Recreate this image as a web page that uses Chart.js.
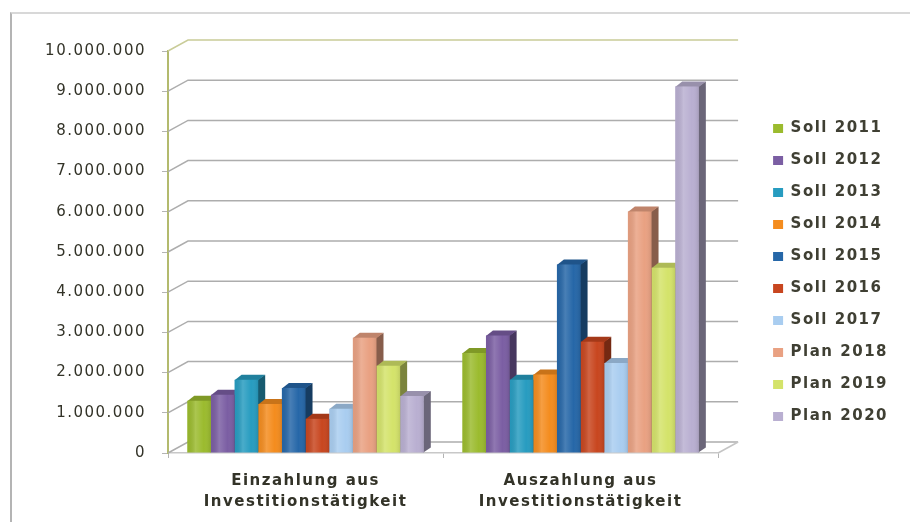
<!DOCTYPE html>
<html>
<head>
<meta charset="utf-8">
<script src="https://cdn.jsdelivr.net/npm/chart.js@4.4.1/dist/chart.umd.min.js"></script>
<style>
  html, body { margin: 0; padding: 0; background: #fff; }
  #wrap { position: relative; width: 910px; height: 522px; }
  #frame { position: absolute; left: 10px; top: 12px; right: 0; bottom: 0;
           border-left: 2px solid #b4b4b4; border-top: 2px solid #d8d8d8; pointer-events: none; }
</style>
</head>
<body>
<div id="wrap">
  <canvas id="invest" width="910" height="522"></canvas>
  <div id="frame"></div>
</div>
<script>
// categories and series
var categories = [['Einzahlung aus', 'Investitionstätigkeit'], ['Auszahlung aus', 'Investitionstätigkeit']];
var seriesNames = ['Soll 2011', 'Soll 2012', 'Soll 2013', 'Soll 2014', 'Soll 2015',
                   'Soll 2016', 'Soll 2017', 'Plan 2018', 'Plan 2019', 'Plan 2020'];
var einzahlung = [1300000, 1450000, 1820000, 1220000, 1620000, 850000, 1100000, 2870000, 2170000, 1420000];
var auszahlung = [2490000, 2920000, 1820000, 1950000, 4690000, 2770000, 2240000, 6010000, 4610000, 9120000];
var yMax = 10000000;
var yStep = 1000000;

var seriesColors = ['#9bbb2e', '#7b5ea3', '#279cc0', '#f48c1e', '#2667a8',
                    '#c8461f', '#a9cdf0', '#e9a182', '#d4e36a', '#b9afd1'];

var WALL_DX = 20, WALL_DY = -11;   // depth of back wall
var BAR_DX = 7, BAR_DY = -5;       // depth of each column

function fmt(v) {
  return String(v).replace(/\B(?=(\d{3})+(?!\d))/g, '.');
}

function shade(hex, f) {
  var n = parseInt(hex.slice(1), 16);
  var c = [(n >> 16) & 255, (n >> 8) & 255, n & 255].map(function (v) {
    return Math.round(f < 0 ? v * (1 + f) : v + (255 - v) * f);
  });
  return 'rgb(' + c.join(',') + ')';
}

var spacing = {
  id: 'spacing',
  beforeLayout: function (chart) { chart.ctx.letterSpacing = '1.5px'; },
  beforeDraw: function (chart) { chart.ctx.letterSpacing = '1.5px'; }
};

function eachBar(chart, fn) {
  var metas = chart.getSortedVisibleDatasetMetas().slice().sort(function (m, n) { return m.index - n.index; });
  for (var j = 0; j < categories.length; j++) {
    metas.forEach(function (meta) {
      var el = meta.data[j];
      if (el) fn(el.getProps(['x', 'y', 'base', 'width'], true), seriesColors[meta.index]);
    });
  }
}

// back wall, side wall and the 3d faces of the columns
var depth3d = {
  id: 'depth3d',
  beforeDatasetsDraw: function (chart) {
    var ctx = chart.ctx, a = chart.chartArea, ys = chart.scales.y;
    ctx.save();
    ctx.lineWidth = 1.5;
    ys.ticks.forEach(function (t) {
      var py = ys.getPixelForValue(t.value);
      ctx.strokeStyle = t.value === ys.max ? '#c9cc98' : '#adadad';
      ctx.beginPath();
      ctx.moveTo(a.left, py);
      ctx.lineTo(a.left + WALL_DX, py + WALL_DY);
      ctx.lineTo(a.right + WALL_DX, py + WALL_DY);
      ctx.stroke();
    });
    ctx.strokeStyle = '#c4c4c4';
    ctx.beginPath();
    ctx.moveTo(a.right, a.bottom);
    ctx.lineTo(a.right + WALL_DX, a.bottom + WALL_DY);
    ctx.stroke();

    eachBar(chart, function (p, col) {
      var l = p.x - p.width / 2, r = p.x + p.width / 2;
      ctx.fillStyle = shade(col, -0.42);
      ctx.beginPath();
      ctx.moveTo(r - 0.5, p.y);
      ctx.lineTo(r + BAR_DX, p.y + BAR_DY);
      ctx.lineTo(r + BAR_DX, p.base + BAR_DY);
      ctx.lineTo(r - 0.5, p.base);
      ctx.closePath();
      ctx.fill();
      ctx.fillStyle = shade(col, -0.18);
      ctx.beginPath();
      ctx.moveTo(l, p.y + 0.5);
      ctx.lineTo(r, p.y + 0.5);
      ctx.lineTo(r + BAR_DX, p.y + BAR_DY);
      ctx.lineTo(l + BAR_DX, p.y + BAR_DY);
      ctx.closePath();
      ctx.fill();
    });
    ctx.restore();
  },
  // soft shading across the front faces
  afterDatasetsDraw: function (chart) {
    var ctx = chart.ctx;
    ctx.save();
    eachBar(chart, function (p) {
      var l = p.x - p.width / 2, r = p.x + p.width / 2;
      var g = ctx.createLinearGradient(l, 0, r, 0);
      g.addColorStop(0, 'rgba(0,0,0,0.04)');
      g.addColorStop(0.35, 'rgba(255,255,255,0.16)');
      g.addColorStop(0.7, 'rgba(255,255,255,0)');
      g.addColorStop(1, 'rgba(0,0,0,0.10)');
      ctx.fillStyle = g;
      ctx.fillRect(l, p.y, r - l, p.base - p.y);
    });
    ctx.restore();
  }
};

var datasets = seriesNames.map(function (name, i) {
  return {
    label: name,
    data: [einzahlung[i], auszahlung[i]],
    backgroundColor: seriesColors[i],
    borderWidth: 0,
    barPercentage: 1,
    categoryPercentage: 0.86
  };
});

var ctx = document.getElementById('invest').getContext('2d');
var chart = new Chart(ctx, {
  type: 'bar',
  data: { labels: categories, datasets: datasets },
  plugins: [spacing, depth3d],
  options: {
    responsive: false,
    animation: false,
    layout: { padding: { top: 23, bottom: 0, left: 0, right: 12 } },
    plugins: {
      tooltip: { enabled: false },
      legend: {
        position: 'right',
        align: 'center',
        labels: {
          boxWidth: 10,
          boxHeight: 9,
          padding: 17,
          color: '#3f3f33',
          font: { family: 'DejaVu Sans', size: 15, weight: 'bold' }
        }
      }
    },
    scales: {
      x: {
        grid: { drawOnChartArea: false, tickLength: 5, color: '#b4b4b4', offset: true },
        border: { color: '#c8c8c8', width: 1.5 },
        ticks: {
          color: '#333328',
          padding: 13,
          maxRotation: 0,
          autoSkip: false,
          font: { family: 'DejaVu Sans', size: 15, weight: 'bold', lineHeight: 1.4 }
        },
        afterFit: function (s) { s.height = 69; }
      },
      xTop: {
        type: 'linear',
        position: 'top',
        grid: { display: false },
        border: { display: false },
        ticks: { display: false },
        afterFit: function (s) { s.height = 28; }
      },
      y: {
        min: 0,
        max: yMax,
        grid: { drawOnChartArea: false, tickLength: 6, color: '#b4b4b4' },
        border: { color: '#b3ba6e', width: 2 },
        ticks: {
          stepSize: yStep,
          padding: 16,
          color: '#333328',
          font: { family: 'DejaVu Sans', size: 15 },
          callback: function (v) { return fmt(v); }
        },
        afterFit: function (s) { s.width = 168; }
      },
      y2: {
        position: 'right',
        grid: { display: false },
        border: { display: false },
        ticks: { display: false },
        afterFit: function (s) { s.width = 38; }
      }
    }
  }
});
</script>
</body>
</html>
